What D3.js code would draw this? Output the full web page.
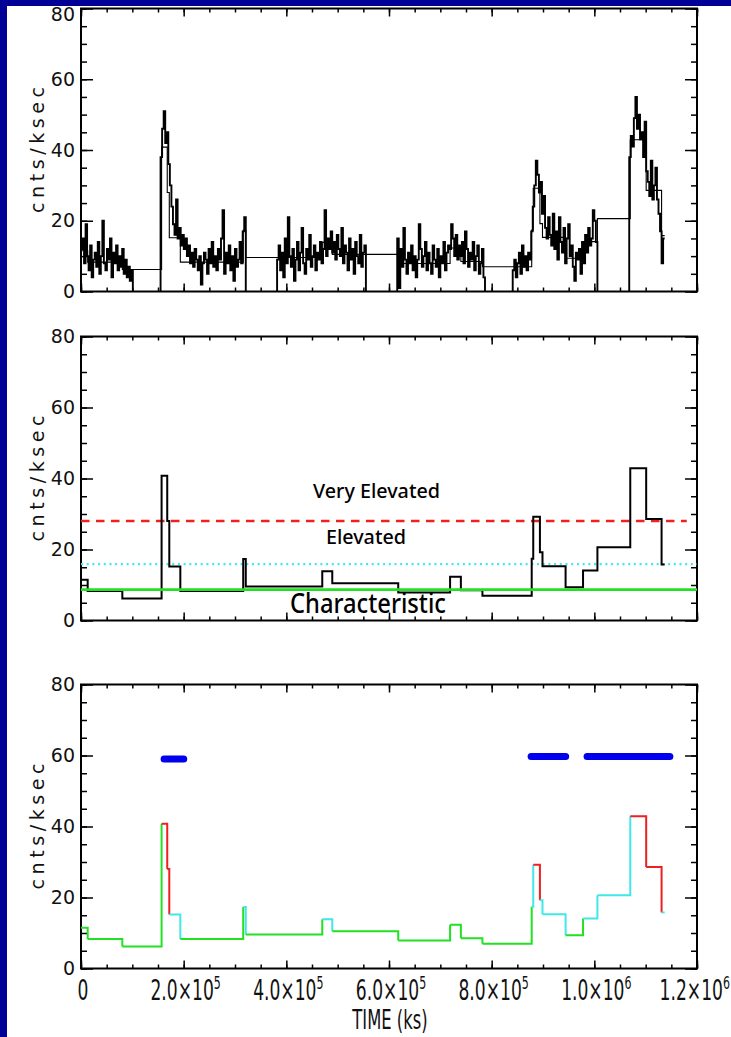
<!DOCTYPE html>
<html>
<head>
<meta charset="utf-8">
<script src="https://cdn.jsdelivr.net/npm/d3@7"></script>
<style>
  body{margin:0;background:#fff;}
  svg{display:block;}
</style>
</head>
<body>
<div id="chart"></div>
<script>

// bayesian blocks: edges in s, rate in cnts/ksec
const blockEdges = [0, 13000, 80500, 157000, 168000, 172000, 193500, 316000, 321000, 470000, 489500,
  618000, 719000, 740000, 782000, 878000, 881000, 894000, 899000, 944000, 978000, 1006000,
  1070000, 1101000, 1131000, 1137000];
const blockRates = [11.5, 8.3, 6.2, 40.8, 28.0, 15.2, 8.3, 17.3, 9.6, 13.9, 10.5,
  7.9, 12.3, 8.5, 7.0, 17.4, 29.2, 19.2, 15.3, 9.4, 14.1,
  20.6, 42.9, 28.6, 15.8];

// levels drawn in the middle panel
const charRate = 8.7;
const elevRate = 15.9;
const veryRate = 28.0;
// lower panel colouring cut (blocks above it are not "characteristic")
const quietCut = 13.0;

// binned light curve, one array per observation
const segStarts = [0, 155000, 382000, 616000, 841000, 1068000];
const segEnds = [101000, 321000, 555000, 787000, 1006000, 1137000];
const seg1 = [12, 15, 8, 19, 10, 6, 13, 4, 9, 11, 7, 14, 5, 10, 20, 8, 6, 12, 9, 15, 4, 11, 8, 13, 6, 10, 7, 12, 5, 9, 4, 7, 3, 6];
const seg2 = [38, 46, 51, 42, 45, 36, 30, 24, 19, 16, 26, 15, 18, 13, 16, 12, 15, 10, 13, 8, 11, 7, 12, 9, 6, 10, 2, 8, 11, 9,
  5, 12, 8, 14, 7, 10, 6, 12, 9, 15, 23, 5, 11, 8, 13, 6, 10, 3, 12, 7, 9, 14, 8, 17, 21];
const seg3 = [9, 13, 6, 11, 4, 15, 8, 21, 10, 7, 12, 3, 9, 14, 6, 11, 18, 8, 5, 12, 9, 16, 7, 10, 13, 6, 11, 9, 14, 8,
  12, 23, 10, 15, 12, 17, 11, 14, 9, 16, 12, 10, 18, 8, 13, 11, 6, 15, 9, 12, 5, 14, 10, 8, 16, 7, 11, 13];
const seg4 = [15, 1, 12, 7, 18, 9, 5, 11, 8, 13, 6, 10, 4, 9, 19, 12, 7, 10, 14, 6, 11, 8, 5, 13, 9, 7, 12, 4, 10, 8,
  14, 6, 11, 13, 12, 19, 15, 10, 16, 9, 13, 10, 14, 8, 17, 12, 7, 11, 9, 14, 6, 10, 13, 5, 8, 12, 4];
const seg5 = [6, 9, 4, 8, 11, 5, 13, 7, 10, 6, 11, 9, 17, 24, 30, 37, 33, 28, 31, 22, 27, 18, 15, 21, 16, 13, 22, 12, 17, 9,
  21, 14, 11, 18, 8, 15, 19, 10, 13, 7, 3, 11, 9, 12, 5, 14, 8, 16, 11, 18, 13, 15, 23, 20, 14];
const seg6 = [38, 44, 41, 49, 55, 46, 50, 43, 45, 38, 48, 34, 31, 27, 37, 26, 30, 35, 26, 22, 17, 8, 15];
const segRates = [seg1, seg2, seg3, seg4, seg5, seg6];
const segDropEnd = [true, true, true, true, true, false];

// flaring intervals marked in the lower panel
const flareStarts = [156000, 871000, 980000];
const flareEnds = [206000, 950000, 1153000];
const flareLevels = [59.0, 59.7, 59.7];

const timeTicks = [0, 200000, 400000, 600000, 800000, 1000000, 1200000];
const timeMant = ['0', '2.0', '4.0', '6.0', '8.0', '1.0', '1.2'];
const timeExp = ['', '5', '5', '5', '5', '6', '6'];
const rateTicks = [0, 20, 40, 60, 80];

const width = 731, height = 1037;
const bgBlue = '#000096';
const green = '#22e022', cyan = '#40e8e8', red = '#ee2020', blue = '#0000ee';

const svg = d3.select('#chart').append('svg')
  .attr('width', width).attr('height', height)
  .style('background', '#fff');

const x = d3.scaleLinear().domain([0, 1200000]).range([81, 697]);

function makePanel(top, bottom){
  const y = d3.scaleLinear().domain([0, 80]).range([bottom, top]);
  const g = svg.append('g');

  const tickStyle = sel => {
    sel.select('.domain').remove();
    sel.selectAll('line').attr('stroke', '#000').attr('stroke-width', 1.5);
  };

  // minor ticks
  g.append('g').attr('transform', `translate(${x.range()[0]},0)`)
    .call(d3.axisLeft(y).tickValues(d3.range(0, 81, 5)).tickSize(-6).tickFormat(''))
    .call(tickStyle);
  g.append('g').attr('transform', `translate(${x.range()[1]},0)`)
    .call(d3.axisRight(y).tickValues(d3.range(0, 81, 5)).tickSize(-6).tickFormat(''))
    .call(tickStyle);
  g.append('g').attr('transform', `translate(0,${bottom})`)
    .call(d3.axisBottom(x).tickValues(d3.range(0, 1200001, 50000)).tickSize(-4).tickFormat(''))
    .call(tickStyle);
  g.append('g').attr('transform', `translate(0,${top})`)
    .call(d3.axisTop(x).tickValues(d3.range(0, 1200001, 50000)).tickSize(-4).tickFormat(''))
    .call(tickStyle);

  // major ticks
  const yl = g.append('g').attr('transform', `translate(${x.range()[0]},0)`)
    .call(d3.axisLeft(y).tickValues(rateTicks).tickSize(-12).tickPadding(6))
    .call(tickStyle);
  yl.selectAll('text')
    .style('font-family', '"DejaVu Sans", sans-serif')
    .style('font-size', '19px')
    .attr('fill', '#111');
  g.append('g').attr('transform', `translate(${x.range()[1]},0)`)
    .call(d3.axisRight(y).tickValues(rateTicks).tickSize(-12).tickFormat(''))
    .call(tickStyle);
  g.append('g').attr('transform', `translate(0,${bottom})`)
    .call(d3.axisBottom(x).tickValues(timeTicks).tickSize(-8).tickFormat(''))
    .call(tickStyle);
  g.append('g').attr('transform', `translate(0,${top})`)
    .call(d3.axisTop(x).tickValues(timeTicks).tickSize(-8).tickFormat(''))
    .call(tickStyle);

  g.append('rect')
    .attr('x', x.range()[0]).attr('y', top)
    .attr('width', x.range()[1] - x.range()[0]).attr('height', bottom - top)
    .attr('fill', 'none').attr('stroke', '#000').attr('stroke-width', 2);

  g.append('text')
    .attr('transform', `translate(44,${(top + bottom) / 2}) rotate(-90)`)
    .attr('text-anchor', 'middle')
    .attr('textLength', 126)
    .attr('lengthAdjust', 'spacing')
    .style('font-family', '"DejaVu Sans", sans-serif')
    .style('font-size', '19px')
    .attr('fill', '#111')
    .text('cnts/ksec');

  return {g: g, y: y, yl: yl};
}

function blockPoints(){
  var pts = blockRates.map((r, i) => [blockEdges[i], r]);
  pts.push([blockEdges[blockEdges.length - 1], blockRates[blockRates.length - 1]]);
  return pts;
}

// ---- top panel: light curve
const p1 = makePanel(8.5, 291.5);
// top label sits right under the slide edge
p1.yl.selectAll('.tick').filter(d => d === 80).select('text').attr('dy', '0.62em');

p1.g.append('path')
  .datum(blockPoints())
  .attr('d', d3.line().x(d => x(d[0])).y(d => p1.y(d[1])).curve(d3.curveStepAfter))
  .attr('fill', 'none').attr('stroke', '#000').attr('stroke-width', 1.1);

segRates.forEach((vals, k) => {
  const t0 = segStarts[k], t1 = segEnds[k];
  const w = (t1 - t0) / vals.length;
  var pts = [[t0, 0]];
  vals.forEach((v, i) => pts.push([t0 + i * w, v]));
  pts.push([t1, vals[vals.length - 1]]);
  if(segDropEnd[k]) pts.push([t1, 0]);
  p1.g.append('path')
    .datum(pts)
    .attr('d', d3.line().x(d => x(d[0])).y(d => p1.y(d[1])).curve(d3.curveStepAfter))
    .attr('fill', 'none').attr('stroke', '#000').attr('stroke-width', 1.9)
    .attr('stroke-linejoin', 'miter');
});

// ---- middle panel: blocks and levels
const p2 = makePanel(336.5, 620.5);

p2.g.append('line')
  .attr('x1', x(0)).attr('x2', x(1200000))
  .attr('y1', p2.y(elevRate)).attr('y2', p2.y(elevRate))
  .attr('stroke', cyan).attr('stroke-width', 2.2)
  .attr('stroke-dasharray', '2,3.7');
p2.g.append('line')
  .attr('x1', x(0)).attr('x2', x(1180000))
  .attr('y1', p2.y(veryRate)).attr('y2', p2.y(veryRate))
  .attr('stroke', red).attr('stroke-width', 2.5)
  .attr('stroke-dasharray', '8.5,6.5');

p2.g.append('path')
  .datum(blockPoints())
  .attr('d', d3.line().x(d => x(d[0])).y(d => p2.y(d[1])).curve(d3.curveStepAfter))
  .attr('fill', 'none').attr('stroke', '#000').attr('stroke-width', 2);

p2.g.append('line')
  .attr('x1', x(0)).attr('x2', x(1200000))
  .attr('y1', p2.y(charRate)).attr('y2', p2.y(charRate))
  .attr('stroke', green).attr('stroke-width', 2.6);

const levelFont = '"Noto Sans", "Open Sans", sans-serif';
p2.g.append('text')
  .attr('x', 313).attr('y', 498)
  .attr('textLength', 127).attr('lengthAdjust', 'spacingAndGlyphs')
  .style('font-family', levelFont).style('font-size', '19px')
  .style('font-weight', 500)
  .text('Very Elevated');
p2.g.append('text')
  .attr('x', 326).attr('y', 544)
  .attr('textLength', 80).attr('lengthAdjust', 'spacingAndGlyphs')
  .style('font-family', levelFont).style('font-size', '19px')
  .style('font-weight', 500)
  .text('Elevated');
p2.g.append('text')
  .attr('x', 290).attr('y', 613)
  .attr('textLength', 156).attr('lengthAdjust', 'spacingAndGlyphs')
  .style('font-family', levelFont).style('font-size', '27px')
  .style('font-weight', 500)
  .text('Characteristic');

// ---- lower panel: coloured blocks and flare intervals
const p3 = makePanel(684.5, 968.5);
const line3 = d3.line().x(d => x(d[0])).y(d => p3.y(d[1]));

function blockColor(r){
  if(r >= veryRate) return red;
  if(r >= quietCut) return cyan;
  return green;
}

blockRates.forEach((r, i) => {
  var pts = [[blockEdges[i], r], [blockEdges[i + 1], r]];
  if(i < blockRates.length - 1) pts.push([blockEdges[i + 1], blockRates[i + 1]]);
  p3.g.append('path')
    .datum(pts)
    .attr('d', line3)
    .attr('fill', 'none').attr('stroke', blockColor(r)).attr('stroke-width', 2);
});

flareStarts.forEach((t, i) => {
  p3.g.append('line')
    .attr('x1', x(t) + 3).attr('x2', x(flareEnds[i]) - 3)
    .attr('y1', p3.y(flareLevels[i])).attr('y2', p3.y(flareLevels[i]))
    .attr('stroke', blue).attr('stroke-width', 7)
    .attr('stroke-linecap', 'round');
});

// time axis labels
const condFont = '"DejaVu Sans Condensed", "DejaVu Sans", sans-serif';
const xlab = p3.g.append('g');
timeTicks.forEach((t, i) => {
  const last = i === timeTicks.length - 1;
  // last label is pushed against the right edge of the slide
  const gx = xlab.append('g')
    .attr('transform', last ? `translate(${width - 1},1000) scale(0.68,1)`
                            : `translate(${x(t) + 2},1000) scale(0.68,1)`);
  const txt = gx.append('text')
    .attr('text-anchor', last ? 'end' : 'middle')
    .style('font-family', condFont)
    .style('font-size', '28px')
    .attr('fill', '#111');
  txt.append('tspan').text(timeMant[i] + (timeExp[i] ? '\u00d710' : ''));
  if(timeExp[i]){
    txt.append('tspan').attr('dy', -11).style('font-size', '18px').text(timeExp[i]);
  }
});

svg.append('g')
  .attr('transform', 'translate(390,1029) scale(0.7,1)')
  .append('text')
  .attr('text-anchor', 'middle')
  .style('font-family', condFont)
  .style('font-size', '26px')
  .attr('fill', '#111')
  .text('TIME (ks)');

// slide background edges
svg.append('rect').attr('x', 0).attr('y', 0).attr('width', width).attr('height', 6).attr('fill', bgBlue);
svg.append('rect').attr('x', 0).attr('y', 0).attr('width', 7).attr('height', height).attr('fill', bgBlue);

</script>
</body>
</html>
